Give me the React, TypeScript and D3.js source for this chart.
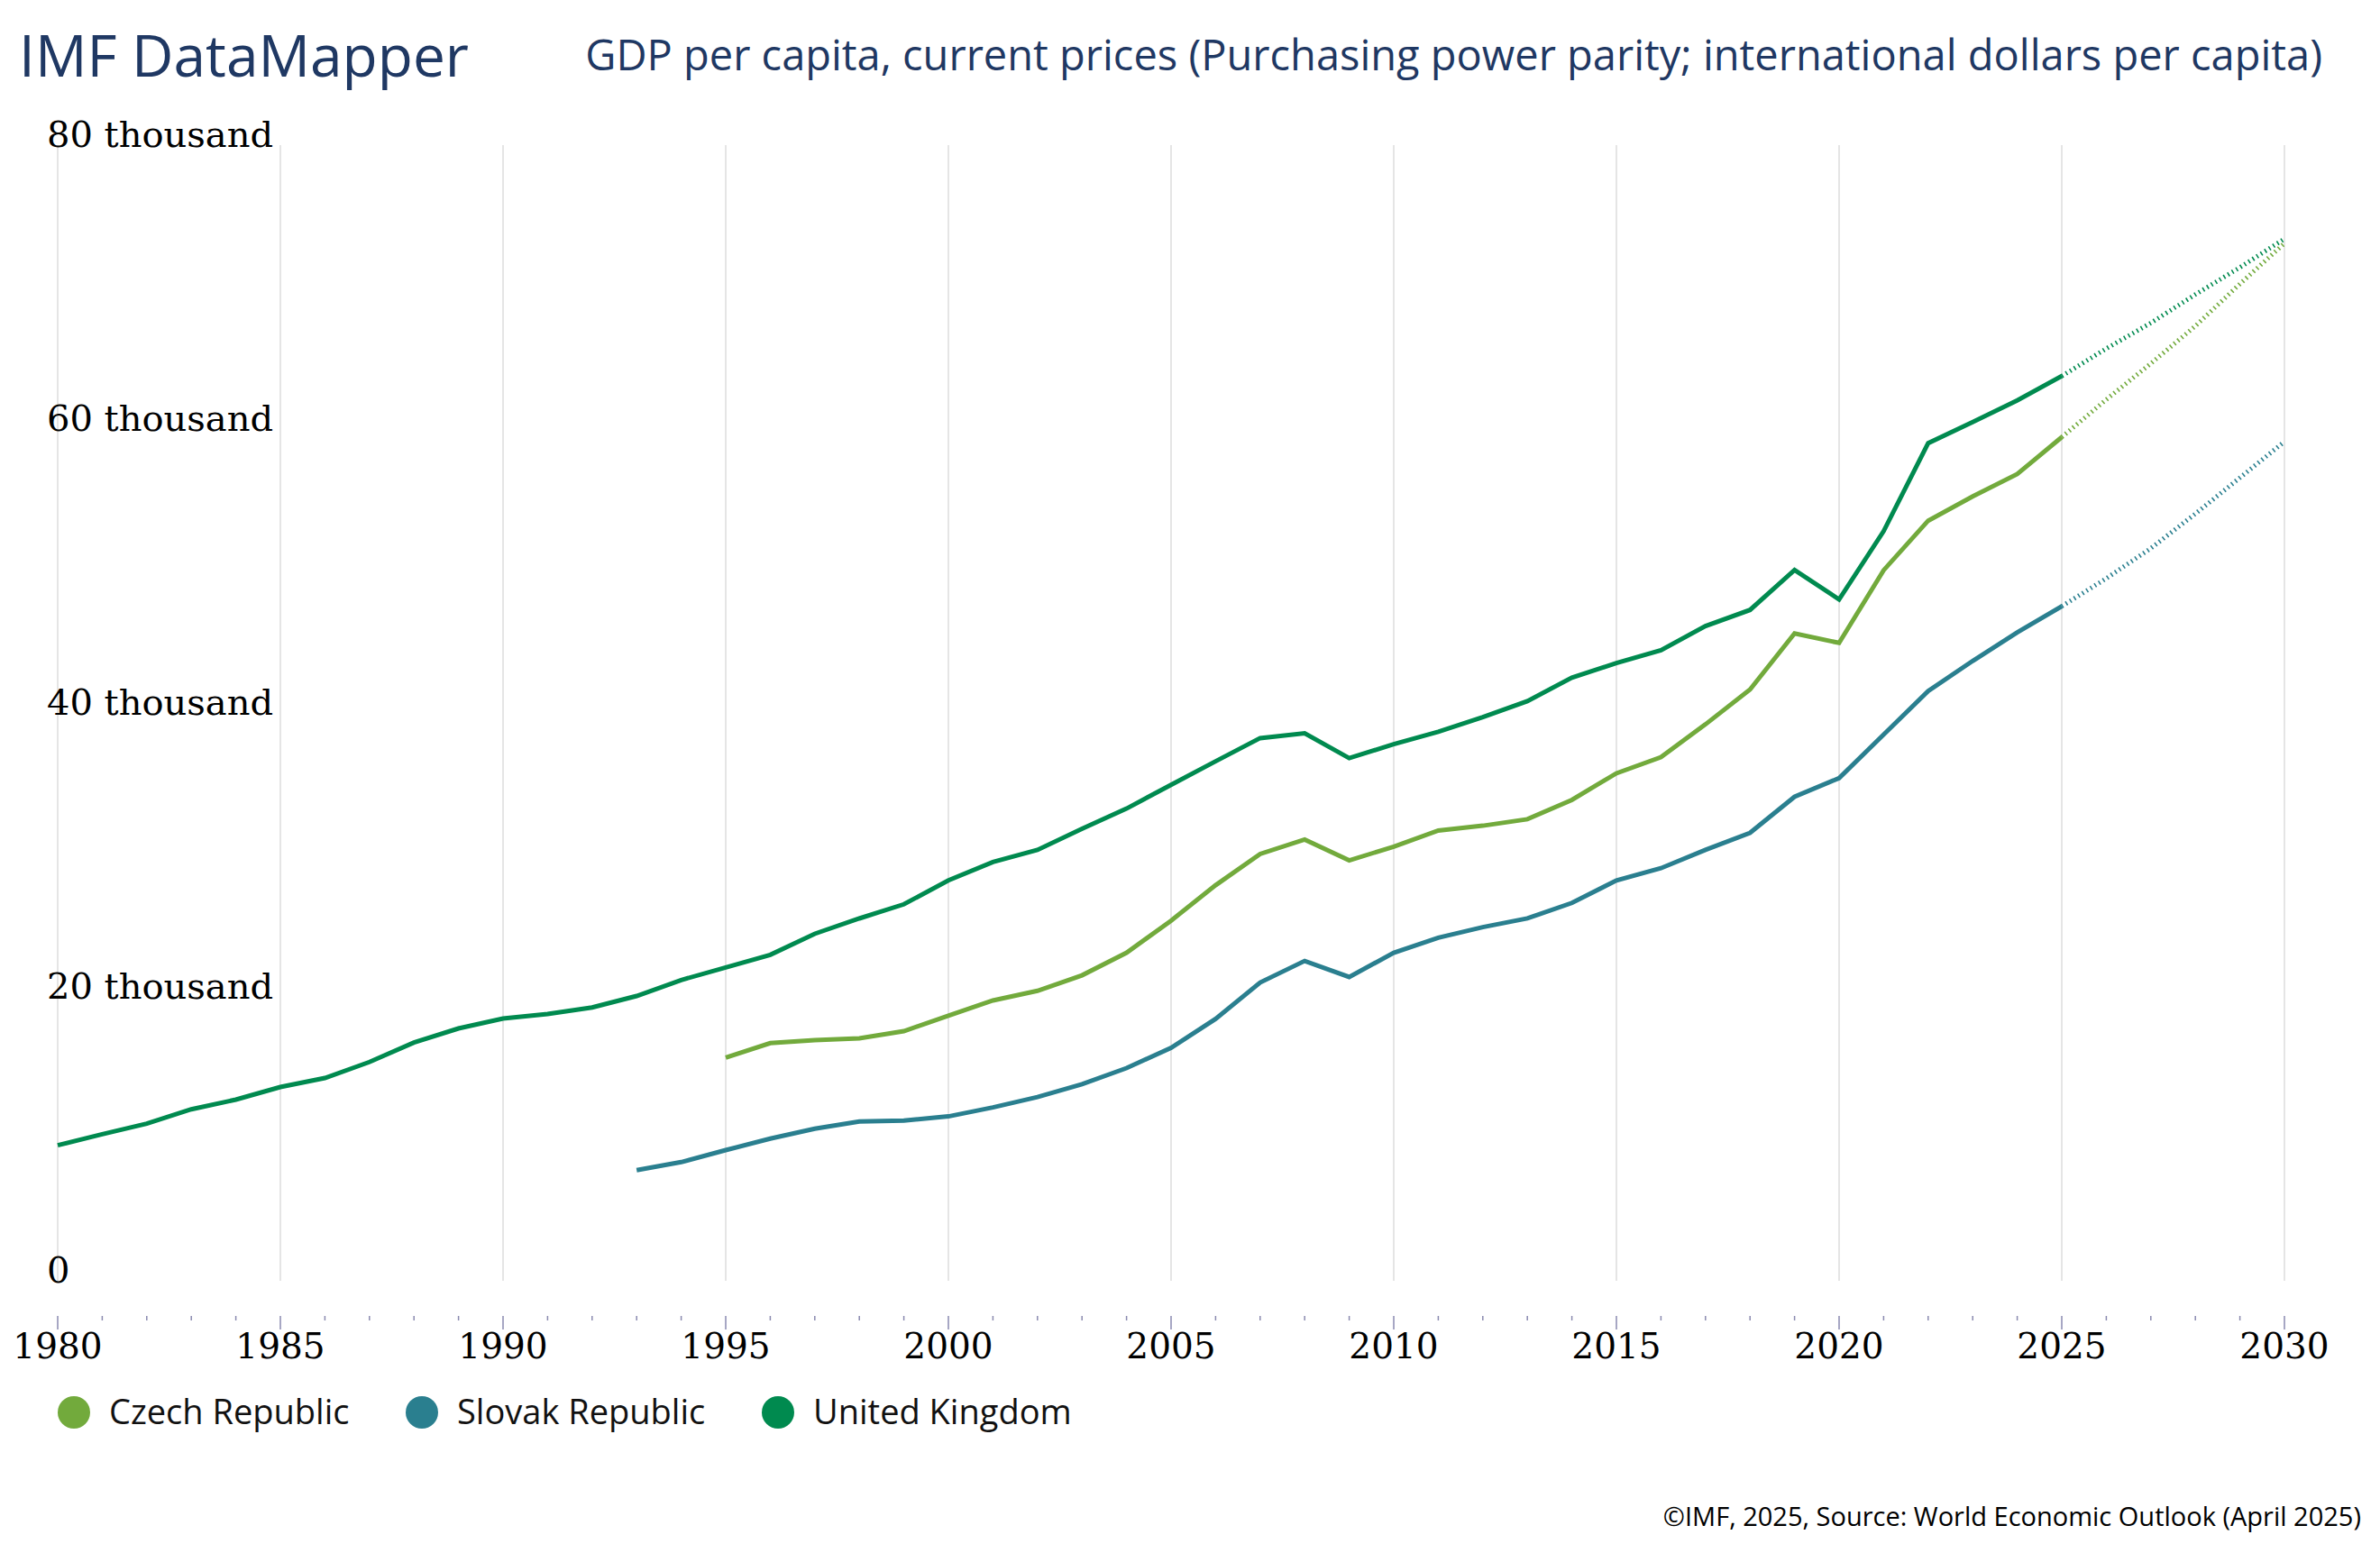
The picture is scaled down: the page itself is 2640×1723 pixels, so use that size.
import * as d3 from 'd3';
import {useMemo} from 'react';

const WIDTH = 2640;
const HEIGHT = 1723;

const TITLE = 'IMF DataMapper';
const SUBTITLE = 'GDP per capita, current prices (Purchasing power parity; international dollars per capita)';
const FOOTER = '©IMF, 2025, Source: World Economic Outlook (April 2025)';

const LAST_ACTUAL = 2025;

const czechStart = 1995;
const czechValues = [
  15727, 16743, 16952, 17079, 17587, 18679, 19746, 20425, 21518, 23105,
  25371, 27867, 30064, 31086, 29613, 30584, 31721, 32057, 32514, 33873,
  35752, 36889, 39200, 41651, 45606, 44933, 50051, 53543, 55257, 56825,
  59429, 62076, 64616, 67257, 70222, 73079,
];

const slovakStart = 1993;
const slovakValues = [
  7790, 8362, 9206, 10013, 10711, 11219, 11283, 11581, 12216, 12946,
  13848, 14984, 16413, 18451, 21016, 22533, 21403, 23105, 24165, 24914,
  25530, 26616, 28203, 29067, 30355, 31556, 34095, 35410, 38476, 41543,
  43664, 45670, 47511, 49479, 51600, 54032, 56571, 59111,
];

const ukStart = 1980;
const ukValues = [
  9543, 10330, 11067, 12083, 12762, 13651, 14286, 15410, 16781, 17778,
  18476, 18794, 19257, 20063, 21187, 22076, 22965, 24444, 25524, 26521,
  28203, 29498, 30355, 31835, 33263, 34940, 36597, 38229, 38565, 36819,
  37797, 38679, 39702, 40832, 42489, 43511, 44419, 46121, 47257, 50076,
  48000, 52806, 59003, 60489, 62013, 63727, 65670, 67473, 69479, 71384,
  73397,
];

const seriesNames = ['Czech Republic', 'Slovak Republic', 'United Kingdom'];
const seriesColors = ['#72aa3c', '#2a7f8f', '#008a4f'];
const seriesStarts = [czechStart, slovakStart, ukStart];
const seriesValues = [czechValues, slovakValues, ukValues];

const yTickValues = [0, 20000, 40000, 60000, 80000];
const yTickLabels = ['0', '20 thousand', '40 thousand', '60 thousand', '80 thousand'];

const SERIF = '"DejaVu Serif", serif';
const SANS = '"Open Sans", "Noto Sans", sans-serif';

type Point = [number, number];

function App() {
  const x = useMemo(() => d3.scaleLinear().domain([1980, 2030]).range([64, 2534]), []);
  const y = useMemo(() => d3.scaleLinear().domain([0, 80000]).range([1421, 161]), []);

  const line = useMemo(
    () =>
      d3
        .line<Point>()
        .x((d) => x(d[0]))
        .y((d) => y(d[1])),
    [x, y]
  );

  const series = seriesNames.map((name, i) => {
    const pts: Point[] = seriesValues[i].map((v, j) => [seriesStarts[i] + j, v]);
    return {
      name,
      color: seriesColors[i],
      actual: pts.filter((p) => p[0] <= LAST_ACTUAL),
      projected: pts.filter((p) => p[0] >= LAST_ACTUAL),
    };
  });

  const majorYears = d3.range(1980, 2031, 5);
  const allYears = d3.range(1980, 2031, 1);
  const axisY = 1460;

  const legendX = [82, 468, 863];

  return (
    <svg
      width={WIDTH}
      height={HEIGHT}
      viewBox={`0 0 ${WIDTH} ${HEIGHT}`}
      style={{position: 'absolute', left: 0, top: 0, background: '#fff'}}
    >
      <rect width={WIDTH} height={HEIGHT} fill="#fff" />

      <text x={21} y={85} fontFamily={SANS} fontSize={64} fill="#1f3863">
        {TITLE}
      </text>
      <text x={2576} y={78} textAnchor="end" fontFamily={SANS} fontSize={47} fill="#1f3863">
        {SUBTITLE}
      </text>

      {/* vertical gridlines */}
      {majorYears.map((yr) => (
        <line
          key={`g${yr}`}
          x1={x(yr)}
          x2={x(yr)}
          y1={y(80000)}
          y2={y(0)}
          stroke="#dcdcdc"
          strokeWidth={1.5}
        />
      ))}

      {/* y labels */}
      {yTickValues.map((v, i) => (
        <text key={`y${v}`} x={52} y={y(v) + 2} fontFamily={SERIF} fontSize={40} fill="#000">
          {yTickLabels[i]}
        </text>
      ))}

      {/* x ticks */}
      {allYears.map((yr) => (
        <line
          key={`t${yr}`}
          x1={x(yr)}
          x2={x(yr)}
          y1={axisY}
          y2={axisY + (yr % 5 === 0 ? 15 : 5)}
          stroke="#8a8ab0"
          strokeWidth={1.5}
        />
      ))}
      {majorYears.map((yr) => (
        <text
          key={`l${yr}`}
          x={x(yr)}
          y={1507}
          textAnchor="middle"
          fontFamily={SERIF}
          fontSize={39}
          fill="#000"
        >
          {yr}
        </text>
      ))}

      {/* series */}
      {series.map((s) => (
        <g key={s.name}>
          <path d={line(s.actual)!} fill="none" stroke={s.color} strokeWidth={5} />
          <path
            d={line(s.projected)!}
            fill="none"
            stroke={s.color}
            strokeWidth={5}
            strokeDasharray="1.6,3.8"
          />
        </g>
      ))}

      {/* legend */}
      {series.map((s, i) => (
        <g key={`lg${s.name}`}>
          <circle cx={legendX[i]} cy={1567} r={18} fill={s.color} />
          <text x={legendX[i] + 39} y={1580} fontFamily={SANS} fontSize={38} fill="#111">
            {s.name}
          </text>
        </g>
      ))}

      <text x={2619} y={1693} textAnchor="end" fontFamily={SANS} fontSize={29} fill="#000">
        {FOOTER}
      </text>
    </svg>
  );
}

export default App;
